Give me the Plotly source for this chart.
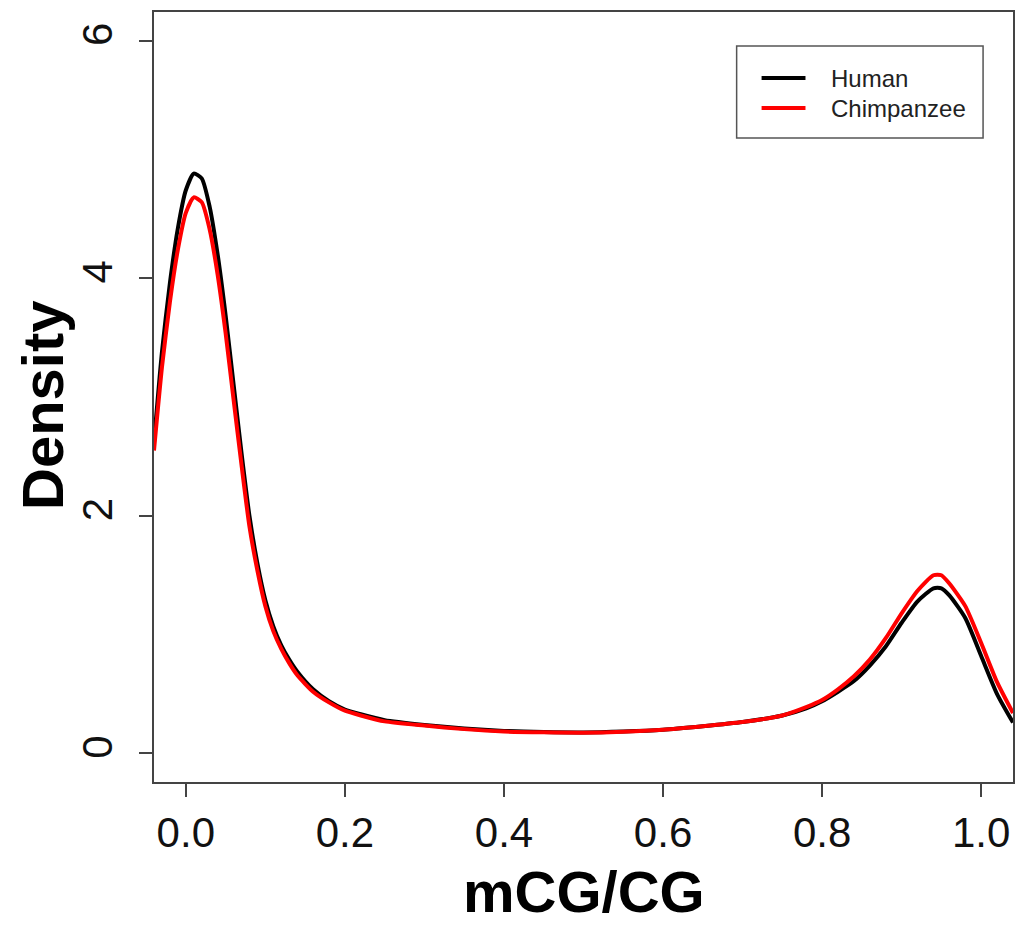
import plotly.graph_objects as go

# ---- data ----
x_vals = [-0.04, -0.03, -0.02, -0.01, 0.00, 0.01, 0.02, 0.03, 0.04, 0.05, 0.06, 0.07,
          0.08, 0.09, 0.10, 0.11, 0.12, 0.13, 0.14, 0.16, 0.18, 0.20, 0.22, 0.25,
          0.30, 0.35, 0.40, 0.45, 0.50, 0.55, 0.60, 0.65, 0.70, 0.75, 0.78, 0.80,
          0.82, 0.84, 0.86, 0.88, 0.90, 0.92, 0.94, 0.95, 0.96, 0.98, 1.00, 1.02, 1.04]

human = [2.62, 3.38, 3.96, 4.42, 4.74, 4.88, 4.84, 4.60, 4.20, 3.69, 3.11, 2.53,
         2.00, 1.60, 1.29, 1.07, 0.91, 0.79, 0.69, 0.54, 0.44, 0.37, 0.33, 0.28,
         0.24, 0.21, 0.19, 0.18, 0.177, 0.185, 0.20, 0.23, 0.265, 0.32, 0.38, 0.44,
         0.52, 0.61, 0.74, 0.90, 1.10, 1.28, 1.39, 1.39, 1.33, 1.14, 0.82, 0.50, 0.26]

chimp = [2.55, 3.25, 3.80, 4.24, 4.55, 4.68, 4.64, 4.41, 4.03, 3.54, 2.98, 2.43,
         1.91, 1.54, 1.24, 1.03, 0.88, 0.76, 0.66, 0.52, 0.43, 0.36, 0.32, 0.27,
         0.235, 0.205, 0.185, 0.178, 0.175, 0.183, 0.20, 0.23, 0.265, 0.32, 0.39, 0.45,
         0.54, 0.65, 0.79, 0.97, 1.18, 1.37, 1.50, 1.50, 1.43, 1.24, 0.93, 0.60, 0.34]

series_names = ["Human", "Chimpanzee"]
series_colors = ["#000000", "#ff0000"]

x_ticks = [0.0, 0.2, 0.4, 0.6, 0.8, 1.0]
x_ticklabels = ["0.0", "0.2", "0.4", "0.6", "0.8", "1.0"]
y_ticks = [0, 2, 4, 6]
y_ticklabels = ["0", "2", "4", "6"]

FONT = "Liberation Sans, Arial, Helvetica, sans-serif"

fig = go.Figure()
for name, ys, col in zip(series_names, [human, chimp], series_colors):
    fig.add_trace(go.Scatter(x=x_vals, y=ys, mode="lines", name=name,
                             line=dict(color=col, width=4, shape="spline", smoothing=0.6),
                             showlegend=False))

axis_common = dict(showline=True, mirror=True, linecolor="#444444", linewidth=1.5,
                   ticks="outside", tickcolor="#444444", tickwidth=1.5, ticklen=13,
                   showgrid=False, zeroline=False,
                   tickfont=dict(family=FONT, size=42, color="#111111"))

fig.update_layout(
    width=1024, height=926,
    margin=dict(l=154, r=9, t=12, b=144),
    paper_bgcolor="white", plot_bgcolor="white",
    xaxis=dict(range=[-0.04, 1.04], tickvals=x_ticks, ticktext=x_ticklabels,
               ticklabelstandoff=0, **axis_common),
    yaxis=dict(range=[-0.24, 6.24], tickvals=y_ticks, ticktext=y_ticklabels,
               tickangle=-90, ticklabelstandoff=10, **axis_common),
    showlegend=False,
)

# axis titles
fig.add_annotation(text="<b>mCG/CG</b>", xref="paper", yref="paper", x=0.5, y=0,
                   yshift=-109, xanchor="center", yanchor="middle", showarrow=False,
                   borderpad=0, font=dict(family=FONT, size=58, color="black"))
fig.add_annotation(text="<b>Density</b>", xref="paper", yref="paper", x=0, y=0.5,
                   xshift=-112, yshift=-8, xanchor="center", yanchor="middle", textangle=-90,
                   showarrow=False, font=dict(family=FONT, size=58, color="black"))

# legend (drawn manually, R style)
def px_x(p):
    return (p - 154) / (1015 - 154)

def px_y(p):
    return (782 - p) / (782 - 12)

fig.add_shape(type="rect", xref="paper", yref="paper",
              x0=px_x(738), x1=px_x(985), y0=px_y(138), y1=px_y(46),
              line=dict(color="#555555", width=1.5), fillcolor="white")
for i, (name, col) in enumerate(zip(series_names, series_colors)):
    yy = 78 + 30 * i
    fig.add_shape(type="line", xref="paper", yref="paper",
                  x0=px_x(763), x1=px_x(807), y0=px_y(yy), y1=px_y(yy),
                  line=dict(color=col, width=4))
    fig.add_annotation(text=name, xref="paper", yref="paper", x=px_x(831), y=px_y(yy),
                       xanchor="left", yanchor="middle", showarrow=False,
                       font=dict(family=FONT, size=24, color="#222222"))

fig.write_html("out.html")
